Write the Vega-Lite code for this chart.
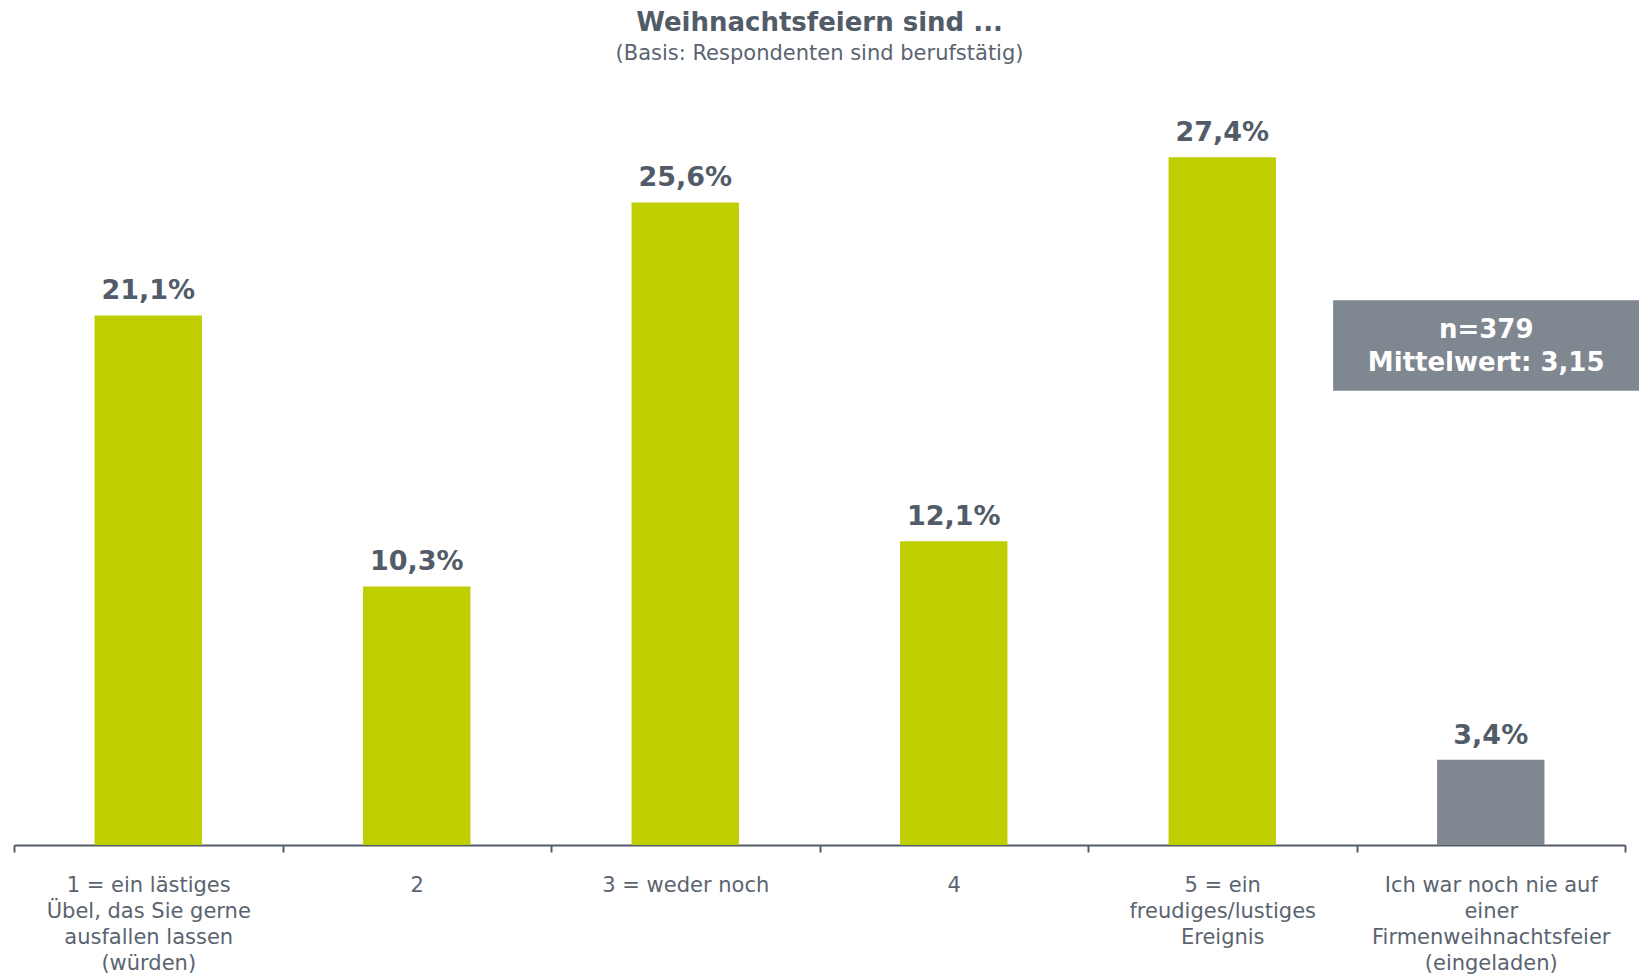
{
  "$schema": "https://vega.github.io/schema/vega-lite/v6.json",
  "width": 1611,
  "height": 753,
  "autosize": {"type": "none"},
  "padding": {"top": 92, "left": 14, "right": 14, "bottom": 130},
  "background": "white",
  "config": {
    "view": {"stroke": null},
    "locale": {"number": {"decimal": ",", "thousands": ".", "grouping": [3], "currency": ["", " €"]}}
  },
  "title": {
    "text": "Weihnachtsfeiern sind ...",
    "subtitle": "(Basis: Respondenten sind berufstätig)",
    "anchor": "middle",
    "font": "DejaVu Sans",
    "fontSize": 26,
    "fontWeight": "bold",
    "color": "#525c68",
    "subtitleFont": "DejaVu Sans",
    "subtitleFontSize": 21,
    "subtitleColor": "#5a6470",
    "subtitlePadding": 7,
    "offset": 28
  },
  "layer": [
    {
      "data": {
        "values": [
          {"kategorie": "1 = ein lästiges|Übel, das Sie gerne|ausfallen lassen|(würden)", "anteil": 0.211, "gruppe": "Skala"},
          {"kategorie": "2", "anteil": 0.103, "gruppe": "Skala"},
          {"kategorie": "3 = weder noch", "anteil": 0.256, "gruppe": "Skala"},
          {"kategorie": "4", "anteil": 0.121, "gruppe": "Skala"},
          {"kategorie": "5 = ein|freudiges/lustiges|Ereignis", "anteil": 0.274, "gruppe": "Skala"},
          {"kategorie": "Ich war noch nie auf|einer|Firmenweihnachtsfeier|(eingeladen)", "anteil": 0.034, "gruppe": "Nie"}
        ]
      },
      "encoding": {
        "x": {
          "field": "kategorie",
          "type": "nominal",
          "sort": null,
          "scale": {"paddingInner": 0, "paddingOuter": 0},
          "axis": {
            "title": null,
            "labelAngle": 0,
            "labelExpr": "isValid(datum.value) ? split(datum.value, '|') : ''",
            "labelFont": "DejaVu Sans",
            "labelFontSize": 21,
            "labelLineHeight": 26,
            "labelColor": "#5a6470",
            "labelBaseline": "top",
            "labelPadding": 22,
            "labelLimit": 0,
            "tickBand": "extent",
            "tickSize": 7,
            "tickWidth": 2,
            "tickColor": "#525c68",
            "domainColor": "#525c68",
            "domainWidth": 2,
            "labelOverlap": false
          }
        },
        "y": {
          "field": "anteil",
          "type": "quantitative",
          "scale": {"domain": [0, 0.3], "nice": false},
          "axis": null
        }
      },
      "layer": [
        {
          "mark": {"type": "bar", "width": {"band": 0.4}},
          "encoding": {
            "color": {
              "field": "gruppe",
              "type": "nominal",
              "scale": {"domain": ["Skala", "Nie"], "range": ["#bfce00", "#7f8790"]},
              "legend": null
            }
          }
        },
        {
          "mark": {"type": "text", "baseline": "alphabetic", "dy": -16, "font": "DejaVu Sans", "fontSize": 27, "fontWeight": "bold", "color": "#525c68"},
          "encoding": {
            "text": {"field": "anteil", "type": "quantitative", "format": ".1%"}
          }
        }
      ]
    },
    {
      "data": {"values": [{"info": "n=379|Mittelwert: 3,15"}]},
      "layer": [
        {
          "mark": {"type": "rect", "color": "#7f8790", "clip": false},
          "encoding": {
            "x": {"datum": 4.913, "type": "quantitative", "scale": {"domain": [0, 6], "nice": false, "zero": false}, "axis": null},
            "x2": {"datum": 6.06},
            "y": {"datum": 0.181, "type": "quantitative"},
            "y2": {"datum": 0.217}
          }
        },
        {
          "mark": {"type": "text", "lineBreak": "|", "lineHeight": 33, "font": "DejaVu Sans", "fontSize": 26, "fontWeight": "bold", "color": "white", "align": "center", "baseline": "middle"},
          "encoding": {
            "x": {"datum": 5.483, "type": "quantitative"},
            "y": {"datum": 0.2051, "type": "quantitative"},
            "text": {"field": "info"}
          }
        }
      ]
    }
  ],
  "resolve": {"scale": {"x": "independent"}}
}
